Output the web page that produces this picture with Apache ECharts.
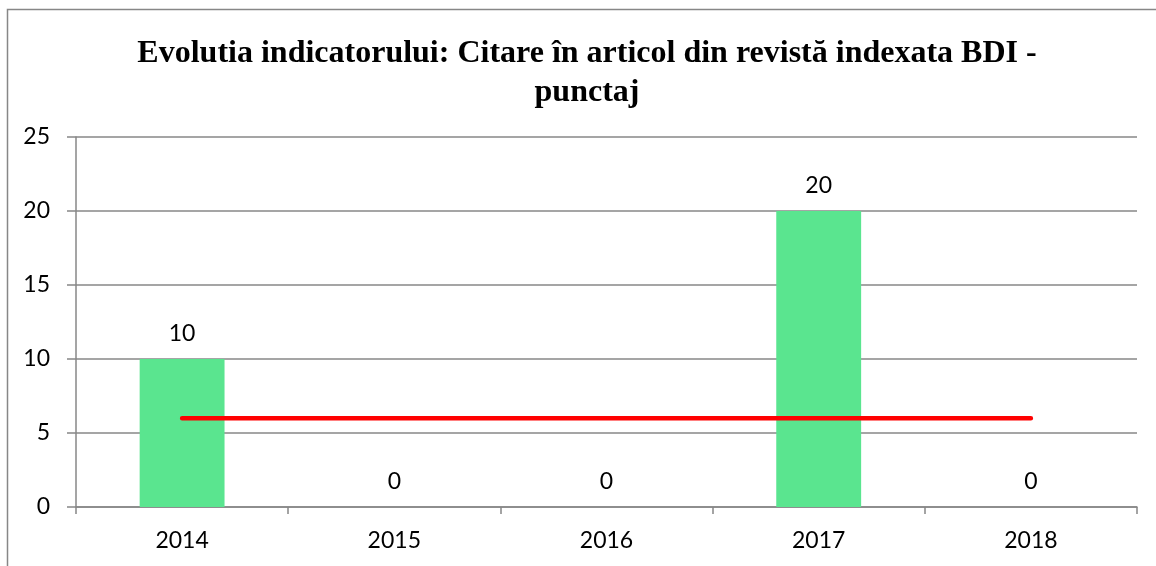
<!DOCTYPE html>
<html>
<head>
<meta charset="utf-8">
<script src="https://cdn.jsdelivr.net/npm/echarts@6/dist/echarts.min.js"></script>
<style>
  html, body { margin: 0; padding: 0; background: #fff; }
  #chart { width: 1156px; height: 566px; }
</style>
</head>
<body>
<div id="chart"></div>
<script>
// date
const years = ['2014', '2015', '2016', '2017', '2018']
const punctaj = [10, 0, 0, 20, 0]
const medie = [6, 6, 6, 6, 6] // linia rosie
const yTicks = { min: 0, max: 25, interval: 5 }

const axisGray = '#878787'
const labelFont = 'Lato, "Open Sans", sans-serif'

const chart = echarts.init(document.getElementById('chart'))

chart.setOption({
  animation: false,
  backgroundColor: '#fff',
  graphic: [
    {
      type: 'rect',
      shape: { x: 7.5, y: 9.5, width: 1200, height: 600 },
      style: { fill: 'none', stroke: axisGray, lineWidth: 1.5 },
      silent: true
    }
  ],
  title: {
    text: 'Evolutia indicatorului: Citare în articol din revistă indexata BDI -\npunctaj',
    left: 582,
    top: 29,
    textAlign: 'center',
    textStyle: {
      fontFamily: '"Liberation Serif", "Times New Roman", serif',
      fontWeight: 'bold',
      fontSize: 32,
      lineHeight: 39,
      color: '#000'
    }
  },
  grid: { left: 76, right: 19, top: 137, bottom: 59 },
  xAxis: {
    type: 'category',
    data: years,
    axisLine: { lineStyle: { color: axisGray, width: 1.5 } },
    axisTick: { show: true, length: 7, alignWithLabel: false, lineStyle: { color: axisGray, width: 1.5 } },
    axisLabel: { color: '#000', fontSize: 23, fontFamily: labelFont, margin: 22 }
  },
  yAxis: {
    type: 'value',
    min: yTicks.min,
    max: yTicks.max,
    interval: yTicks.interval,
    axisLine: { show: true, lineStyle: { color: axisGray, width: 1.5 } },
    axisTick: { show: true, length: 9, lineStyle: { color: axisGray, width: 1.5 } },
    splitLine: { lineStyle: { color: axisGray, width: 1.5 } },
    axisLabel: { color: '#000', fontSize: 23, fontFamily: labelFont, margin: 26 }
  },
  series: [
    {
      name: 'Punctaj',
      type: 'bar',
      data: punctaj,
      barWidth: '40%',
      itemStyle: { color: '#5AE58F' },
      label: {
        show: true,
        position: 'top',
        distance: 14,
        color: '#000',
        fontSize: 23,
        fontFamily: labelFont
      }
    },
    {
      name: 'Medie',
      type: 'line',
      data: medie,
      symbol: 'none',
      lineStyle: { color: '#FF0000', width: 4.5, cap: 'round' },
      z: 5
    }
  ]
})
</script>
</body>
</html>
